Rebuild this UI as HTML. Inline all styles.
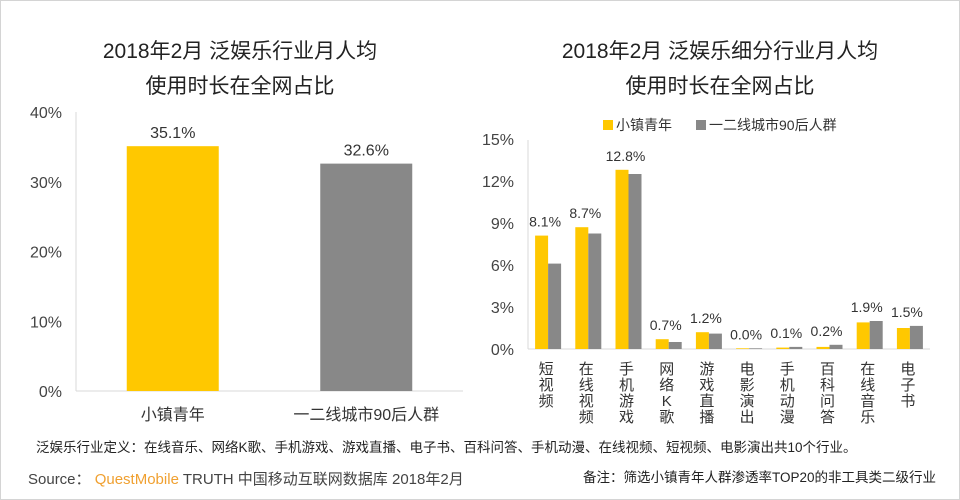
<!DOCTYPE html>
<html><head><meta charset="utf-8">
<style>
html,body{margin:0;padding:0;background:#fff;}
body{width:960px;height:500px;overflow:hidden;position:relative;font-family:"Liberation Sans","Noto Sans CJK SC",sans-serif;}
#frame{position:absolute;left:0;top:0;width:958px;height:498px;border:1px solid #d4d4d4;}
.t{position:absolute;color:#222;}
</style></head><body>
<div id="frame"></div>
<svg width="960" height="500" style="position:absolute;left:0;top:0" font-family="Liberation Sans, Noto Sans CJK SC, sans-serif">
<text x="240" y="58" text-anchor="middle" font-size="21" fill="#222">2018年2月 泛娱乐行业月人均</text>
<text x="240" y="93" text-anchor="middle" font-size="21" fill="#222">使用时长在全网占比</text>
<text x="720" y="58" text-anchor="middle" font-size="21" fill="#222">2018年2月 泛娱乐细分行业月人均</text>
<text x="720" y="93" text-anchor="middle" font-size="21" fill="#222">使用时长在全网占比</text>
<g id="left"></g>
<g id="right"></g>
<rect x="603" y="120" width="10" height="10" fill="#FFC800"/>
<text x="616" y="130" font-size="14" fill="#333">小镇青年</text>
<rect x="696" y="120" width="10" height="10" fill="#888"/>
<text x="709" y="130" font-size="14" fill="#333">一二线城市90后人群</text>
<text x="36" y="452" font-size="13.5" fill="#222">泛娱乐行业定义：在线音乐、网络K歌、手机游戏、游戏直播、电子书、百科问答、手机动漫、在线视频、短视频、电影演出共10个行业。</text>
<text x="28" y="484" font-size="15" fill="#444">Source： <tspan fill="#F0A030">QuestMobile</tspan> TRUTH 中国移动互联网数据库 2018年2月</text>
<text x="583" y="482" font-size="13.5" fill="#222">备注：筛选小镇青年人群渗透率TOP20的非工具类二级行业</text>
</svg>
<script>
const leftCats=["小镇青年","一二线城市90后人群"];
const leftVals=[35.1,32.6];
const leftLabels=["35.1%","32.6%"];
const leftTicks=[0,10,20,30,40];
const rightCats=["短视频","在线视频","手机游戏","网络K歌","游戏直播","电影演出","手机动漫","百科问答","在线音乐","电子书"];
const townVals=[8.1,8.7,12.8,0.7,1.2,0.05,0.1,0.15,1.9,1.5];
const cityVals=[6.1,8.25,12.5,0.5,1.1,0.05,0.15,0.3,2.0,1.65];
const townLabels=["8.1%","8.7%","12.8%","0.7%","1.2%","0.0%","0.1%","0.2%","1.9%","1.5%"];
const rightTicks=[0,3,6,9,12,15];
const NS="http://www.w3.org/2000/svg";
function mk(p,tag,a){const e=document.createElementNS(NS,tag);for(const k in a)e.setAttribute(k,a[k]);p.appendChild(e);return e;}
// left chart
const L=document.getElementById('left');
const ly=v=>391-v*(279/40);
const lx0=76,lx1=463,lband=(lx1-lx0)/leftCats.length;
let e;
e=mk(L,'line',{x1:lx0,y1:112,x2:lx0,y2:391,stroke:'#d9d9d9'});


e=mk(L,'line',{x1:lx0,y1:391,x2:lx1,y2:391,stroke:'#d9d9d9'});


leftTicks.forEach(t=>{e=mk(L,'text',{x:62,y:ly(t)+6,'text-anchor':'end','font-size':16,fill:'#444'});e.textContent=t+'%';

});
const lcols=['#FFC800','#888888'];
leftVals.forEach((v,i)=>{const cx=lx0+lband*(i+0.5);
e=mk(L,'rect',{x:cx-46,y:ly(v),width:92,height:ly(0)-ly(v),fill:lcols[i]});


e=mk(L,'text',{x:cx,y:ly(v)-8,'text-anchor':'middle','font-size':16,fill:'#333'});e.textContent=leftLabels[i];


e=mk(L,'text',{x:cx,y:420,'text-anchor':'middle','font-size':16,fill:'#333'});e.textContent=leftCats[i];

});
// right chart
const R=document.getElementById('right');
const ry=v=>349-v*(210/15);
const rx0=528,rx1=930,rband=(rx1-rx0)/rightCats.length;
e=mk(R,'line',{x1:rx0,y1:140,x2:rx0,y2:349,stroke:'#d9d9d9'});


e=mk(R,'line',{x1:rx0,y1:349,x2:rx1,y2:349,stroke:'#d9d9d9'});


rightTicks.forEach(t=>{e=mk(R,'text',{x:514,y:ry(t)+6,'text-anchor':'end','font-size':16,fill:'#444'});e.textContent=t+'%';

});
rightCats.forEach((c,i)=>{const cx=rx0+rband*(i+0.5);
e=mk(R,'rect',{x:cx-13,y:ry(townVals[i]),width:13,height:ry(0)-ry(townVals[i]),fill:'#FFC800'});


e=mk(R,'rect',{x:cx,y:ry(cityVals[i]),width:13,height:ry(0)-ry(cityVals[i]),fill:'#888888'});


const top=Math.min(ry(townVals[i]),ry(cityVals[i]));
e=mk(R,'text',{x:cx-3,y:top-9,'text-anchor':'middle','font-size':14,fill:'#333'});e.textContent=townLabels[i];


[...c].forEach((ch,j)=>{e=mk(R,'text',{x:cx-2,y:374+j*16,'text-anchor':'middle','font-size':15,fill:'#333'});e.textContent=ch;

});});
</script>
</body></html>
